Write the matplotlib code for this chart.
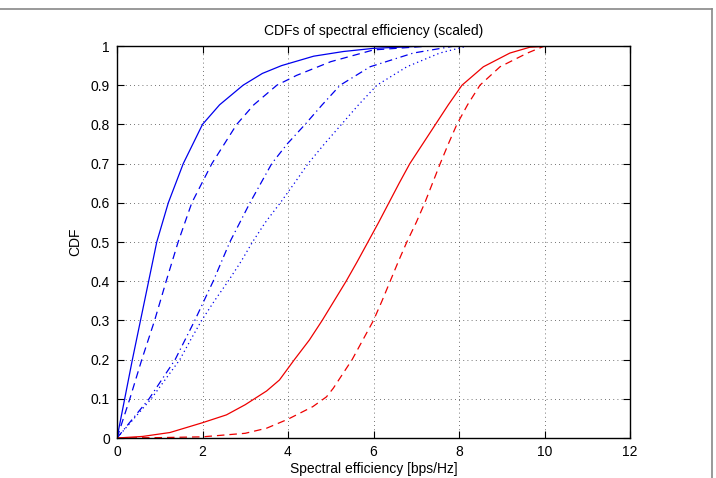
import matplotlib
matplotlib.use("Agg")
import matplotlib.pyplot as plt
from matplotlib.lines import Line2D

plt.rcParams['font.family'] = ['Liberation Sans', 'DejaVu Sans']

# CDF curves (x = spectral efficiency, y = CDF)
blue_solid_x = [0, 0.18, 0.36, 0.55, 0.74, 0.93, 1.2, 1.55, 2.0, 2.4, 2.95, 3.4, 3.85, 4.6, 5.3, 6.0, 7.0, 8.5]
blue_solid_y = [0, 0.1, 0.2, 0.3, 0.4, 0.5, 0.6, 0.7, 0.8, 0.85, 0.9, 0.93, 0.95, 0.974, 0.986, 0.994, 0.999, 1.0]

blue_dash_x = [0, 0.3, 0.58, 0.88, 1.15, 1.43, 1.75, 2.22, 2.8, 3.2, 3.74, 4.2, 5.0, 6.0, 7.2, 8.5]
blue_dash_y = [0, 0.1, 0.2, 0.3, 0.4, 0.5, 0.6, 0.7, 0.8, 0.85, 0.9, 0.925, 0.96, 0.99, 0.999, 1.0]

blue_dashdot_x = [0, 0.75, 1.36, 1.82, 2.25, 2.64, 3.11, 3.62, 3.98, 4.4, 4.8, 5.22, 5.92, 6.93, 7.9, 9.0]
blue_dashdot_y = [0, 0.1, 0.2, 0.3, 0.4, 0.5, 0.6, 0.7, 0.75, 0.8, 0.85, 0.9, 0.947, 0.982, 1.0, 1.0]

blue_dot_x = [0, 0.8, 1.47, 1.72, 1.98, 2.28, 2.6, 2.9, 3.17, 3.47, 3.82, 4.15, 4.47, 4.85, 5.25, 5.65, 6.08, 6.78, 7.55, 8.2, 9.0]
blue_dot_y = [0, 0.1, 0.2, 0.25, 0.3, 0.35, 0.4, 0.45, 0.5, 0.55, 0.6, 0.65, 0.7, 0.75, 0.8, 0.85, 0.9, 0.947, 0.982, 1.0, 1.0]

red_solid_x = [0, 0.6, 1.24, 2.0, 2.56, 3.0, 3.5, 3.8, 4.15, 4.5, 4.8, 5.08, 5.36, 5.62, 5.87, 6.12, 6.36, 6.6, 6.85, 7.15, 7.45, 7.75, 8.07, 8.57, 9.19, 9.66, 10.2, 11.1]
red_solid_y = [0, 0.004, 0.014, 0.039, 0.059, 0.085, 0.12, 0.148, 0.2, 0.25, 0.3, 0.35, 0.4, 0.45, 0.5, 0.55, 0.6, 0.65, 0.7, 0.75, 0.8, 0.85, 0.9, 0.947, 0.982, 0.997, 1.0, 1.0]

red_dash_x = [0, 1.0, 2.0, 3.0, 3.5, 4.0, 4.58, 4.9, 5.06, 5.5, 5.75, 6.0, 6.2, 6.39, 6.58, 6.78, 7.0, 7.2, 7.38, 7.56, 7.75, 7.95, 8.2, 8.49, 8.96, 9.6, 10.0, 11.1]
red_dash_y = [0, 0.001, 0.003, 0.012, 0.025, 0.048, 0.08, 0.105, 0.127, 0.2, 0.25, 0.3, 0.35, 0.4, 0.45, 0.5, 0.55, 0.6, 0.65, 0.7, 0.75, 0.8, 0.85, 0.9, 0.947, 0.982, 1.0, 1.0]

x_ticks = [0, 2, 4, 6, 8, 10, 12]
y_ticks = [0, 0.1, 0.2, 0.3, 0.4, 0.5, 0.6, 0.7, 0.8, 0.9, 1]
y_tick_labels = ['0', '0.1', '0.2', '0.3', '0.4', '0.5', '0.6', '0.7', '0.8', '0.9', '1']

fig = plt.figure(figsize=(7.16, 4.78), dpi=100)
ax = fig.add_axes([117/716, 1-438/478, (630-117)/716, (438-46)/478])

blue = '#0000ee'
red = '#ee0000'
lw = 0.9
ax.plot(blue_solid_x, blue_solid_y, color=blue, lw=lw, ls='-')
ax.plot(blue_dash_x, blue_dash_y, color=blue, lw=lw, ls=(0, (6, 4)))
ax.plot(blue_dashdot_x, blue_dashdot_y, color=blue, lw=lw, ls=(0, (6, 3, 1, 3)))
ax.plot(blue_dot_x, blue_dot_y, color=blue, lw=lw, ls=(0, (1, 2.5)))
ax.plot(red_solid_x, red_solid_y, color=red, lw=lw, ls='-')
ax.plot(red_dash_x, red_dash_y, color=red, lw=lw, ls=(0, (6, 4)))

ax.set_xlim(0, 12)
ax.set_ylim(0, 1)
ax.set_xticks(x_ticks)
ax.set_yticks(y_ticks)
ax.set_yticklabels(y_tick_labels)
ax.grid(True, color='#444444', ls=(0, (1, 4)), lw=0.6)
ax.tick_params(direction='in', length=5, width=0.8, top=True, right=True,
               labelsize=10, pad=5, colors='black')
for sp in ax.spines.values():
    sp.set_linewidth(1.0)

ax.set_title('CDFs of spectral efficiency (scaled)', fontsize=10, pad=8)
ax.set_xlabel('Spectral efficiency [bps/Hz]', fontsize=10, labelpad=2)
ax.set_ylabel('CDF', fontsize=10, labelpad=6)

# thin gray figure frame (top and right edges)
fig.add_artist(Line2D([0, 712/716], [1-9/478, 1-9/478], transform=fig.transFigure,
                      color='#888888', lw=1.2))
fig.add_artist(Line2D([712/716, 712/716], [1-9/478, 0], transform=fig.transFigure,
                      color='#888888', lw=1.2))

fig.savefig('out.png', dpi=100)
